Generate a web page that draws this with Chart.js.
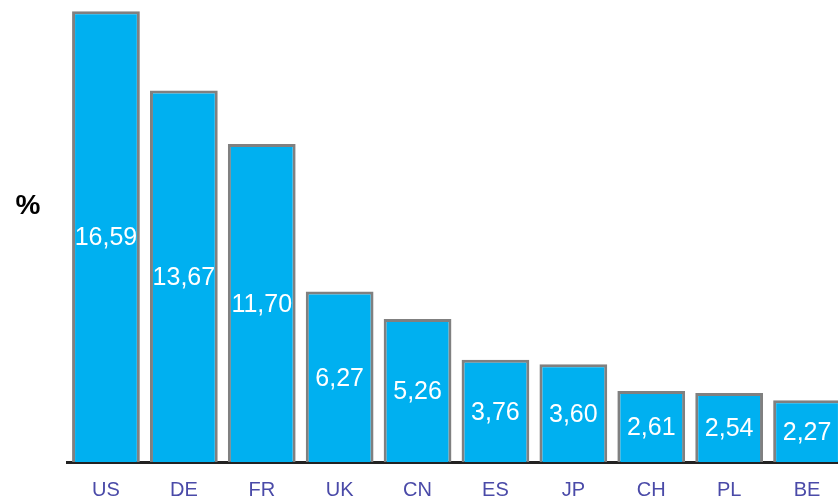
<!DOCTYPE html>
<html>
<head>
<meta charset="utf-8">
<script src="https://cdn.jsdelivr.net/npm/chart.js@4/dist/chart.umd.min.js"></script>
<style>
	body { margin: 0; overflow: hidden; background: #fff; }
	#wrap { position: relative; width: 850px; height: 518px; }
</style>
</head>
<body>
<div id="wrap"><canvas id="chart"></canvas></div>
<script>
var countries = ["US", "DE", "FR", "UK", "CN", "ES", "JP", "CH", "PL", "BE"];
var shares = [16.59, 13.67, 11.70, 6.27, 5.26, 3.76, 3.60, 2.61, 2.54, 2.27];
var yMax = 17;

// value label in the middle of each bar, comma decimals
var barLabels = {
	id: "barLabels",
	afterDatasetsDraw: function(chart) {
		var ctx = chart.ctx;
		var meta = chart.getDatasetMeta(0);
		ctx.save();
		ctx.fillStyle = "#ffffff";
		ctx.font = "25px 'Liberation Sans', Arial, sans-serif";
		ctx.textAlign = "center";
		ctx.textBaseline = "middle";
		meta.data.forEach(function(bar, i) {
			var mid = (bar.y + bar.base) / 2;
			ctx.fillText(shares[i].toFixed(2).replace(".", ","), bar.x, mid + 2);
		});
		// unit on the left
		ctx.fillStyle = "#000000";
		ctx.font = "bold 28px 'Liberation Sans', Arial, sans-serif";
		ctx.fillText("%", 28, 206);
		ctx.restore();
	}
};

new Chart(document.getElementById("chart"), {
	type: "bar",
	data: {
		labels: countries,
		datasets: [{
			data: shares,
			backgroundColor: "#00b0f0",
			borderColor: "#808080",
			borderWidth: 3,
			barPercentage: 0.87,
			categoryPercentage: 1
		}]
	},
	options: {
		responsive: true,
		maintainAspectRatio: false,
		animation: false,
		layout: { padding: { left: 67, right: 4, top: 0, bottom: 0 } },
		plugins: { legend: { display: false }, tooltip: { enabled: false } },
		scales: {
			x: {
				grid: { display: false, drawTicks: false },
				border: { display: true, color: "#222222", width: 3 },
				ticks: {
					color: "#4a4aa8",
					padding: 16,
					font: { size: 20, family: "'Liberation Sans', Arial, sans-serif" }
				}
			},
			y: {
				display: false,
				min: 0,
				max: yMax
			}
		}
	},
	plugins: [barLabels]
});
</script>
</body>
</html>
